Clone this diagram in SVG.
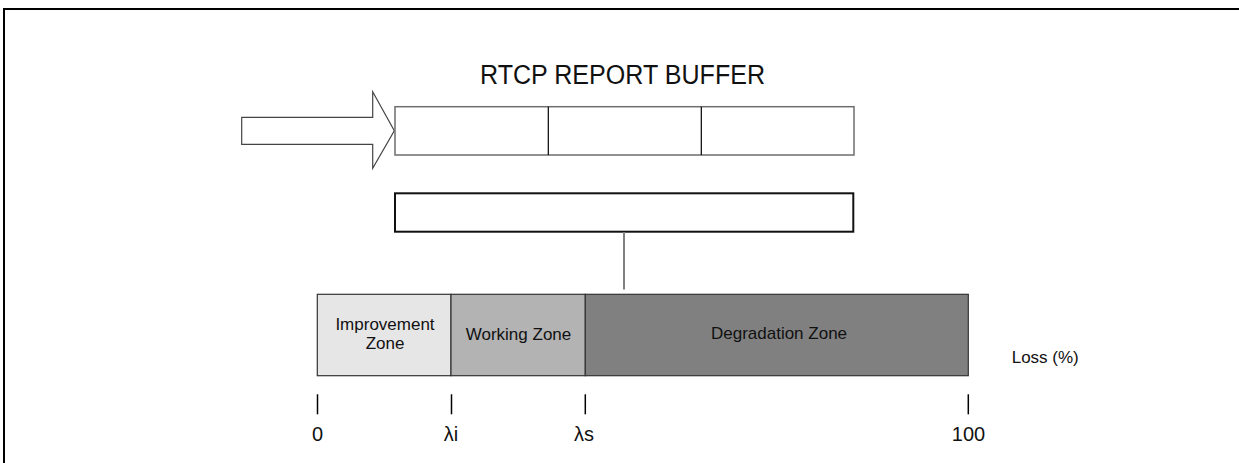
<svg xmlns="http://www.w3.org/2000/svg" width="1239" height="463" viewBox="0 0 1239 463">
  <style>
    text { font-family: "Liberation Sans", Arial, sans-serif; fill: #111; }
    .title { font-size: 27px; text-anchor: middle; }
    .zone { font-size: 17px; text-anchor: middle; }
    .axis { font-size: 20px; text-anchor: middle; }
    .unit { font-size: 17px; }
    .cell { fill: #fff; stroke: #6e6e6e; stroke-width: 1.5; }
    .divider { stroke: #000; stroke-width: 1.2; }
    .tick { stroke: #000; stroke-width: 1.5; }
    .band { stroke: #333; stroke-width: 1.2; }
  </style>

  <!-- frame edges -->
  <g id="frame">
    <line x1="5" y1="9" x2="1239" y2="9" stroke="#000" stroke-width="2"/>
    <line x1="4" y1="8" x2="4" y2="463" stroke="#000" stroke-width="2"/>
  </g>

  <g id="title">
    <text class="title" x="622.5" y="84" textLength="285" lengthAdjust="spacingAndGlyphs">RTCP REPORT BUFFER</text>
  </g>

  <!-- incoming report arrow -->
  <g id="input-arrow">
    <polygon points="241.7,117.3 372.7,117.3 372.7,91.7 394.3,130.7 372.7,168.3 372.7,144.3 241.7,144.3"
             fill="#fff" stroke="#444" stroke-width="1.2" stroke-linejoin="miter"/>
  </g>

  <!-- three-slot report buffer -->
  <g id="report-buffer">
    <rect class="cell" x="395" y="106.7" width="459" height="48.3"/>
    <line class="divider" x1="548.3" y1="106.7" x2="548.3" y2="155"/>
    <line class="divider" x1="701.3" y1="106.7" x2="701.3" y2="155"/>
  </g>

  <!-- averaged loss value -->
  <g id="loss-estimate">
    <rect x="395" y="193.3" width="458.3" height="38.4" fill="#fff" stroke="#111" stroke-width="2"/>
  </g>

  <g id="connectors">
    <line x1="624" y1="232" x2="624" y2="289.5" stroke="#808080" stroke-width="2"/>
  </g>

  <!-- loss zones -->
  <g id="improvement-zone">
    <rect class="band" x="317.3" y="294.3" width="133.7" height="81.4" fill="#e6e6e6"/>
    <text class="zone" x="385" y="330">Improvement</text>
    <text class="zone" x="385" y="349">Zone</text>
  </g>
  <g id="working-zone">
    <rect class="band" x="451" y="294.3" width="134.3" height="81.4" fill="#b3b3b3"/>
    <text class="zone" x="518.5" y="340">Working Zone</text>
  </g>
  <g id="degradation-zone">
    <rect class="band" x="585.3" y="294.3" width="383" height="81.4" fill="#808080"/>
    <text class="zone" x="779" y="339">Degradation Zone</text>
  </g>

  <g id="loss-unit">
    <text class="unit" x="1011.7" y="363.3">Loss (%)</text>
  </g>

  <!-- axis ticks and thresholds -->
  <g id="axis">
    <line class="tick" x1="317.5" y1="394.3" x2="317.5" y2="414.3"/>
    <line class="tick" x1="451.5" y1="394.3" x2="451.5" y2="414.3"/>
    <line class="tick" x1="585.3" y1="394.3" x2="585.3" y2="414.3"/>
    <line class="tick" x1="968.3" y1="394.3" x2="968.3" y2="414.3"/>
    <text class="axis" x="317.5" y="441">0</text>
    <text class="axis" x="451" y="441">λi</text>
    <text class="axis" x="584" y="441">λs</text>
    <text class="axis" x="968.5" y="441">100</text>
  </g>
</svg>
